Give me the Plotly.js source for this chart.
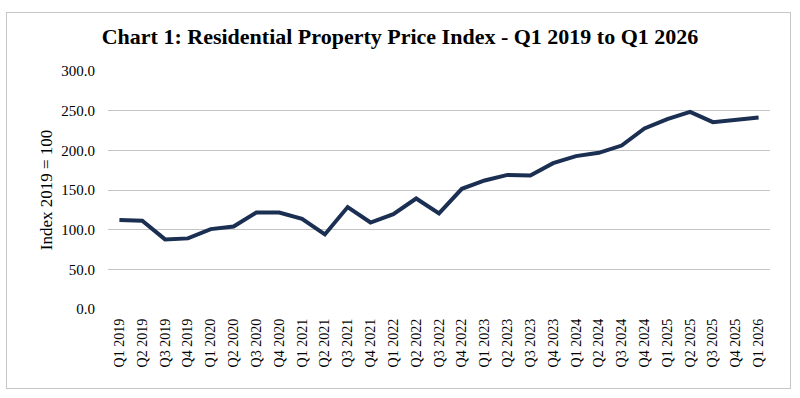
<!DOCTYPE html>
<html>
<head>
<meta charset="utf-8">
<script src="https://cdn.plot.ly/plotly-3.0.1.min.js"></script>
<style>
  html, body { margin: 0; padding: 0; background: #ffffff; }
  #frame { position: absolute; left: 6px; top: 12px; width: 785px; height: 377px; border: 1.5px solid #c6c6c6; box-sizing: border-box; }
  #chart { position: absolute; left: 0; top: 0; width: 800px; height: 398px; }
</style>
</head>
<body>
<div id="frame"></div>
<div id="chart"></div>
<script>
// Quarterly residential property price index (2019 = 100)
const quarters = [
  "Q1 2019", "Q2 2019", "Q3 2019", "Q4 2019",
  "Q1 2020", "Q2 2020", "Q3 2020", "Q4 2020",
  "Q1 2021", "Q2 2021", "Q3 2021", "Q4 2021",
  "Q1 2022", "Q2 2022", "Q3 2022", "Q4 2022",
  "Q1 2023", "Q2 2023", "Q3 2023", "Q4 2023",
  "Q1 2024", "Q2 2024", "Q3 2024", "Q4 2024",
  "Q1 2025", "Q2 2025", "Q3 2025", "Q4 2025",
  "Q1 2026"
];
const indexValues = [
  112.1, 111.2, 87.7, 89.0,
  100.7, 104.0, 121.7, 121.7,
  113.7, 94.0, 128.5, 109.0,
  119.6, 139.3, 120.4, 151.5,
  162.0, 169.0, 168.3, 183.8,
  192.7, 196.9, 206.0, 227.5,
  239.3, 248.5, 235.5, 238.4,
  241.3
];
const yTicks = [0, 50, 100, 150, 200, 250, 300];
const yTickText = yTicks.map(v => v.toFixed(1));

const serif = "Liberation Serif, Times New Roman, serif";

const trace = {
  type: "scatter",
  mode: "lines",
  x: quarters,
  y: indexValues,
  line: { color: "#1b2f52", width: 4 },
  hoverinfo: "x+y"
};

const layout = {
  width: 800,
  height: 398,
  paper_bgcolor: "rgba(0,0,0,0)",
  plot_bgcolor: "rgba(0,0,0,0)",
  margin: { l: 108, r: 30, t: 71, b: 89 },
  showlegend: false,
  title: {
    text: "<b>Chart 1: Residential Property Price Index - Q1 2019 to Q1 2026</b>",
    font: { family: serif, size: 22, color: "#000000" },
    x: 0.5, xanchor: "center",
    y: 0.91, yanchor: "middle"
  },
  xaxis: {
    type: "category",
    categoryorder: "array",
    categoryarray: quarters,
    range: [-0.5, quarters.length - 0.5],
    tickangle: -90,
    tickfont: { family: serif, size: 14, color: "#000000" },
    ticklabelstandoff: 6,
    showgrid: false,
    zeroline: false,
    showline: false,
    ticks: "",
    ticklen: 0
  },
  yaxis: {
    range: [0, 300],
    tickvals: yTicks,
    ticktext: yTickText,
    tickfont: { family: serif, size: 15, color: "#000000" },
    ticklabelstandoff: 12,
    showgrid: true,
    gridcolor: "#c4c4c4",
    gridwidth: 1,
    zeroline: false,
    showline: false,
    ticks: "",
    title: {
      text: "Index 2019 = 100",
      font: { family: serif, size: 17, color: "#000000" },
      standoff: 4
    }
  }
};

Plotly.newPlot("chart", [trace], layout, { displayModeBar: false, staticPlot: true });
</script>
</body>
</html>
